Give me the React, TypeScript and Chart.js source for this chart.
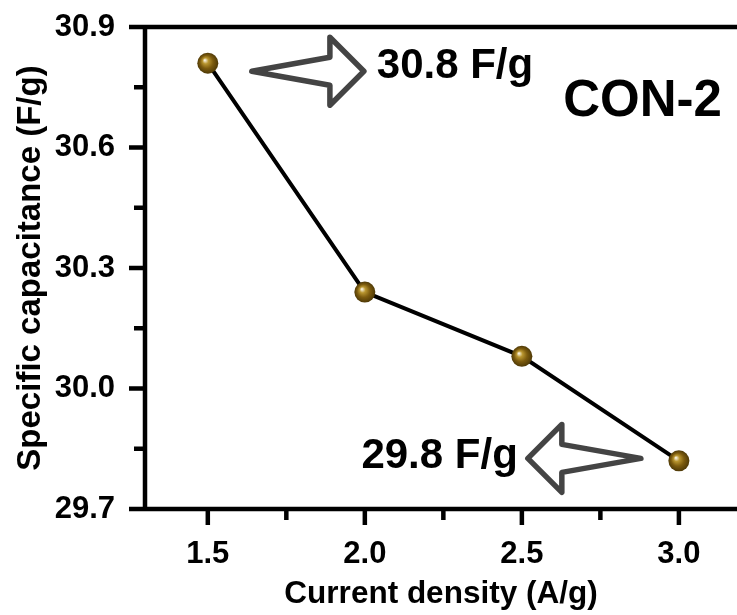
import React, { useEffect, useRef } from "react";
import { Chart, registerables } from "chart.js";

Chart.register(...registerables);

// ---- data ----
const currentDensity = [1.5, 2.0, 2.5, 3.0];
const capacitance = [30.81, 30.24, 30.08, 29.82];
const xTickValues = [1.5, 2.0, 2.5, 3.0];
const xMinorTickValues = [1.75, 2.25, 2.75];
const yTickValues = [29.7, 30.0, 30.3, 30.6, 30.9];
const yMinorTickValues = [29.85, 30.15, 30.45, 30.75];
const xAxisTitle = "Current density (A/g)";
const yAxisTitle = "Specific capacitance (F/g)";
const sampleLabel = "CON-2";
const calloutLabels = ["30.8 F/g", "29.8 F/g"];

// ---- annotations (data coordinates) ----
const ARROWS = [
  { from: [1.64, 30.79], to: [1.997, 30.79] },
  { from: [2.879, 29.826], to: [2.519, 29.826] },
];
const TEXTS = [
  { text: calloutLabels[0], x: 2.038, y: 30.803, align: "left", size: 42 },
  { text: calloutLabels[1], x: 2.487, y: 29.83, align: "right", size: 42 },
  { text: sampleLabel, x: 3.137, y: 30.713, align: "right", size: 51 },
];

const FONT = "'Liberation Sans', Arial, Helvetica, sans-serif";
const AXIS_W = 4.5;
const MAJOR = 16;
const MINOR = 11;

const zeroPad = (s: any) => {
  s.paddingTop = 0;
  s.paddingBottom = 0;
  s.paddingLeft = 0;
  s.paddingRight = 0;
};

const framePlugin = {
  id: "frame",
  beforeDatasetsDraw(chart: any) {
    const { ctx, chartArea: a, scales } = chart;
    const x = scales.x;
    const y = scales.y;
    ctx.save();
    ctx.strokeStyle = "#000";
    ctx.lineWidth = AXIS_W;
    ctx.lineCap = "butt";
    ctx.beginPath();
    ctx.moveTo(a.left, a.top - AXIS_W / 2);
    ctx.lineTo(a.left, a.bottom + AXIS_W / 2);
    ctx.moveTo(a.left, a.top);
    ctx.lineTo(a.right, a.top);
    ctx.moveTo(a.left, a.bottom);
    ctx.lineTo(a.right, a.bottom);
    for (const v of yTickValues) {
      const p = y.getPixelForValue(v);
      ctx.moveTo(a.left - MAJOR, p);
      ctx.lineTo(a.left, p);
    }
    for (const v of yMinorTickValues) {
      const p = y.getPixelForValue(v);
      ctx.moveTo(a.left - MINOR, p);
      ctx.lineTo(a.left, p);
    }
    for (const v of xTickValues) {
      const p = x.getPixelForValue(v);
      ctx.moveTo(p, a.bottom);
      ctx.lineTo(p, a.bottom + MAJOR);
    }
    for (const v of xMinorTickValues) {
      const p = x.getPixelForValue(v);
      ctx.moveTo(p, a.bottom);
      ctx.lineTo(p, a.bottom + MINOR);
    }
    ctx.stroke();
    ctx.restore();
  },
  afterDatasetsDraw(chart: any) {
    const { ctx, scales } = chart;
    const x = scales.x;
    const y = scales.y;
    ctx.save();
    // hollow arrows
    ctx.strokeStyle = "#444444";
    ctx.lineWidth = 5.5;
    ctx.lineJoin = "round";
    for (const ar of ARROWS) {
      const tx = x.getPixelForValue(ar.from[0]);
      const ty = y.getPixelForValue(ar.from[1]);
      const hx = x.getPixelForValue(ar.to[0]);
      const hy = y.getPixelForValue(ar.to[1]);
      const dir = Math.sign(hx - tx);
      const headLen = 34;
      const headHalf = 34;
      const shaftHalf = 14;
      const bx = hx - dir * headLen;
      ctx.beginPath();
      ctx.moveTo(tx, ty);
      ctx.lineTo(bx, hy - shaftHalf);
      ctx.lineTo(bx, hy - headHalf);
      ctx.lineTo(hx, hy);
      ctx.lineTo(bx, hy + headHalf);
      ctx.lineTo(bx, hy + shaftHalf);
      ctx.closePath();
      ctx.stroke();
    }
    // texts
    ctx.fillStyle = "#000";
    ctx.textBaseline = "middle";
    for (const t of TEXTS) {
      ctx.font = `bold ${t.size}px ${FONT}`;
      ctx.textAlign = t.align as CanvasTextAlign;
      ctx.fillText(t.text, x.getPixelForValue(t.x), y.getPixelForValue(t.y));
    }
    ctx.restore();
  },
};

export default function App() {
  const ref = useRef<HTMLCanvasElement | null>(null);

  useEffect(() => {
    if (!ref.current) return;
    const chart = new Chart(ref.current, {
      type: "line",
      data: {
        datasets: [
          {
            data: currentDensity.map((v, i) => ({ x: v, y: capacitance[i] })),
            borderColor: "#000",
            borderWidth: 4,
            tension: 0,
            pointRadius: 10.5,
            pointHoverRadius: 10.5,
            pointBorderWidth: 0,
            pointBorderColor: "rgba(0,0,0,0)",
            pointBackgroundColor: (c: any) => {
              const ch = c.chart;
              if (c.type !== "data" || !ch.chartArea || !c.parsed) return "#7a5a12";
              const px = ch.scales.x.getPixelForValue(c.parsed.x);
              const py = ch.scales.y.getPixelForValue(c.parsed.y);
              const g = ch.ctx.createRadialGradient(px - 3, py - 3, 0.5, px, py, 10.5);
              g.addColorStop(0, "#f6eed8");
              g.addColorStop(0.25, "#b8952f");
              g.addColorStop(0.6, "#7c5b0e");
              g.addColorStop(1, "#4e3906");
              return g;
            },
          },
        ],
      },
      options: {
        animation: false,
        responsive: false,
        maintainAspectRatio: false,
        layout: { autoPadding: false, padding: { top: 27, right: 0, left: 0, bottom: 0 } },
        plugins: {
          legend: { display: false },
          tooltip: { enabled: false },
        },
        scales: {
          x: {
            type: "linear",
            min: 1.3,
            max: 3.185,
            grid: { display: false, drawTicks: false },
            border: { display: false },
            afterBuildTicks: (s: any) => {
              s.ticks = xTickValues.map((v) => ({ value: v }));
            },
            afterFit: (s: any) => {
              s.height = 106;
              zeroPad(s);
            },
            ticks: {
              padding: 27,
              color: "#000",
              font: { family: FONT, size: 31, weight: "bold" },
              callback: (v: any) => Number(v).toFixed(1),
              maxRotation: 0,
              autoSkip: false,
            },
            title: {
              display: true,
              text: xAxisTitle,
              color: "#000",
              font: { family: FONT, size: 31.5, weight: "bold" },
              padding: { top: 0, bottom: 2 },
            },
          },
          y: {
            type: "linear",
            min: 29.7,
            max: 30.9,
            grid: { display: false, drawTicks: false },
            border: { display: false },
            afterBuildTicks: (s: any) => {
              s.ticks = yTickValues.map((v) => ({ value: v }));
            },
            afterFit: (s: any) => {
              s.width = 145;
              zeroPad(s);
            },
            ticks: {
              padding: 30,
              color: "#000",
              font: { family: FONT, size: 31, weight: "bold" },
              callback: (v: any) => Number(v).toFixed(1),
              autoSkip: false,
            },
            title: {
              display: true,
              text: yAxisTitle,
              color: "#000",
              font: { family: FONT, size: 33, weight: "bold" },
              padding: { top: 11, bottom: 0 },
            },
          },
        },
      },
      plugins: [framePlugin],
    } as any);
    return () => chart.destroy();
  }, []);

  return (
    <div style={{ position: "fixed", left: 0, top: 0, width: 737, height: 615, background: "#fff" }}>
      <canvas ref={ref} width={737} height={615} style={{ display: "block", width: 737, height: 615 }} />
    </div>
  );
}
